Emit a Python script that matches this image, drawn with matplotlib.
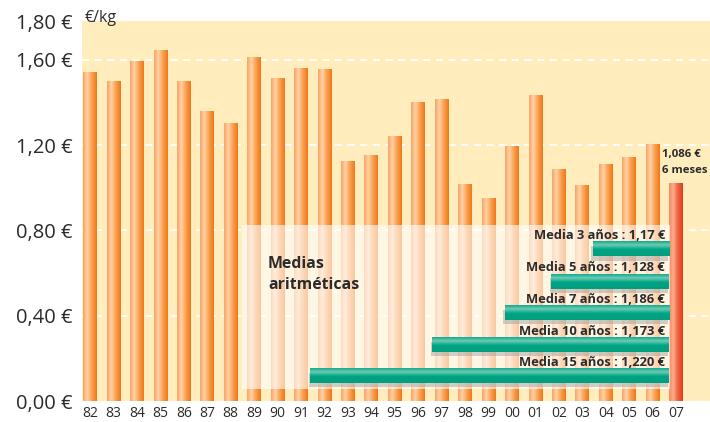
import matplotlib
matplotlib.use("Agg")
import matplotlib.pyplot as plt
import numpy as np
from matplotlib.colors import LinearSegmentedColormap
from matplotlib.patches import Rectangle

plt.rcParams['font.family'] = ['Open Sans', 'DejaVu Sans']

# data
years = ['82', '83', '84', '85', '86', '87', '88', '89', '90', '91', '92', '93', '94',
         '95', '96', '97', '98', '99', '00', '01', '02', '03', '04', '05', '06', '07']
prices = [1.542, 1.500, 1.594, 1.646, 1.500, 1.359, 1.302, 1.611, 1.514, 1.560, 1.553,
          1.123, 1.153, 1.240, 1.401, 1.414, 1.015, 0.948, 1.194, 1.434, 1.084, 1.010,
          1.111, 1.142, 1.203, 1.021]
last_label = ['1,086 €', '6 meses']

avg_names = ['Media 3 años : 1,17 €', 'Media 5 años : 1,128 €', 'Media 7 años : 1,186 €',
             'Media 10 años : 1,173 €', 'Media 15 años : 1,220 €']
avg_start = [21.45, 19.67, 17.70, 14.59, 9.39]   # where each green bar starts (x units)
avg_row_y = [0.712, 0.561, 0.415, 0.264, 0.119]

ytick_vals = [0.0, 0.4, 0.8, 1.2, 1.6]
ytick_text = ['0,00 €', '0,40 €', '0,80 €', '1,20 €', '1,60 €']

YTOP = 1.782
BG = '#FFEDBE'
TXT = '#2b2b2b'

orange = LinearSegmentedColormap.from_list('o', [(0, '#F8A466'), (0.32, '#FFD2A6'),
                                                 (0.6, '#FBA557'), (1, '#F0781A')])
red = LinearSegmentedColormap.from_list('r', [(0, '#F58A66'), (0.32, '#F9AE8C'),
                                              (0.6, '#F06A44'), (1, '#E23A1C')])
green = LinearSegmentedColormap.from_list('g', [(0, '#00A07E'), (0.45, '#00A384'),
                                                (0.75, '#6ACDB6'), (1, '#1BAA8E')])

fig = plt.figure(figsize=(7.10, 4.22), dpi=100)
ax = fig.add_axes([82 / 710, 21 / 422, 628 / 710, 380 / 422])
ax.set_facecolor(BG)

n = len(prices)
xs = np.arange(n)
w = 0.58
hgrad = np.linspace(0, 1, 64).reshape(1, -1)
for i, (x, v) in enumerate(zip(xs, prices)):
    cm = red if i == n - 1 else orange
    ax.imshow(hgrad, cmap=cm, aspect='auto', extent=[x - w / 2, x + w / 2, 0, v],
              zorder=2, interpolation='bilinear')

# grid
for v in ytick_vals[1:]:
    ax.axhline(v, color='white', lw=1.3, ls=(0, (4, 3)), zorder=1)

# translucent box
ax.add_patch(Rectangle((6.48, 0.055), 24.74 - 6.48, 0.827 - 0.055, facecolor='white',
                       alpha=0.6, edgecolor='none', zorder=3))
ax.text(7.59, 0.644, 'Medias', fontsize=11.4, fontweight='bold', color=TXT,
        va='center', ha='left', zorder=6)
ax.text(7.59, 0.542, 'aritméticas', fontsize=11.4, fontweight='bold', color=TXT,
        va='center', ha='left', zorder=6)

# average bars
xend = 24.70
bh = 0.067
vgrad = np.linspace(0, 1, 32).reshape(-1, 1)
for name, x0, yc in zip(avg_names, avg_start, avg_row_y):
    ax.add_patch(Rectangle((x0 - 0.06, yc - bh / 2 - 0.02), xend - x0, bh,
                           facecolor='#9a9a9a', alpha=0.45, edgecolor='none', zorder=4))
    ax.imshow(vgrad, cmap=green, aspect='auto', origin='lower',
              extent=[x0, xend, yc - bh / 2, yc + bh / 2], zorder=5,
              interpolation='bilinear')
    ax.text(24.53, yc + 0.063, name, fontsize=9.3, fontweight='bold', color=TXT,
            ha='right', va='center', zorder=6)

ax.text(24.40, 1.157, last_label[0], fontsize=8.2, fontweight='bold', color=TXT,
        ha='left', va='center')
ax.text(24.40, 1.082, last_label[1], fontsize=8.2, fontweight='bold', color=TXT,
        ha='left', va='center')

ax.set_xlim(-0.341, 26.45)
ax.set_ylim(0, YTOP)
ax.set_xticks(xs)
ax.set_xticklabels(years, fontsize=10, color=TXT)
ax.set_yticks(ytick_vals + [YTOP])
ax.set_yticklabels(ytick_text + ['1,80 €'], fontsize=14.5, color=TXT)
ax.tick_params(length=0, axis='y', pad=7)
ax.tick_params(length=0, axis='x', pad=3.5)
for s in ax.spines.values():
    s.set_visible(False)

fig.text(85 / 710, 1 - 18 / 422, '€/kg', fontsize=11.5, color=TXT, va='center', ha='left')

fig.savefig('out.png', dpi=100)
